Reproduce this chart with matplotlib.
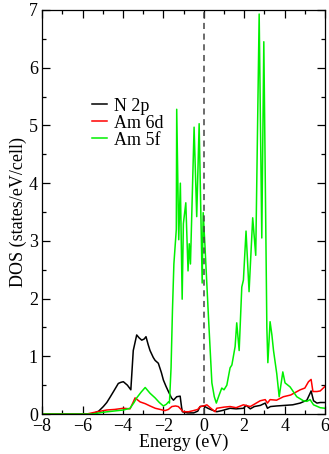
import matplotlib
matplotlib.use('Agg')
import matplotlib.pyplot as plt
from matplotlib.ticker import MultipleLocator

plt.rcParams['font.family'] = ['Liberation Serif', 'DejaVu Serif']

# N 2p partial DOS
e_n2p = [-8, -5.6, -5.47, -5.2, -4.97, -4.8, -4.64, -4.45, -4.23, -4.1, -3.98, -3.78,
         -3.61, -3.49, -3.32, -3.2, -3.07, -2.95, -2.86, -2.75, -2.66, -2.5, -2.41,
         -2.25, -2.1, -2.0, -1.87, -1.75, -1.6, -1.5, -1.34, -1.17, -1.1, -1.06,
         -0.8, -0.5, -0.3, -0.18, 0.0, 0.2, 0.4, 0.64, 0.9, 1.3, 1.6, 1.96, 2.1,
         2.3, 2.5, 2.8, 3.04, 3.15, 3.3, 3.6, 4.0, 4.4, 4.77, 5.1, 5.26, 5.31,
         5.43, 5.6, 5.76, 6.0]
dos_n2p = [0.0, 0.0, 0.01, 0.05, 0.13, 0.2, 0.29, 0.4, 0.53, 0.55, 0.56, 0.5,
           0.42, 1.1, 1.37, 1.32, 1.28, 1.3, 1.34, 1.2, 1.1, 0.98, 0.93,
           0.88, 0.72, 0.59, 0.48, 0.39, 0.28, 0.24, 0.3, 0.31, 0.12, 0.04,
           0.02, 0.02, 0.05, 0.13, 0.14, 0.1, 0.07, 0.04, 0.06, 0.1, 0.09, 0.1, 0.15,
           0.09, 0.13, 0.15, 0.19, 0.1, 0.13, 0.14, 0.15, 0.16, 0.19, 0.24, 0.36, 0.4,
           0.23, 0.19, 0.2, 0.2]

# Am 6d partial DOS
e_am6d = [-8, -5.8, -5.4, -4.8, -4.4, -3.98, -3.65, -3.5, -3.4, -3.15, -2.9, -2.66,
          -2.4, -2.16, -1.92, -1.75, -1.58, -1.4, -1.26, -1.1, -1.01, -0.75, -0.51,
          -0.3, -0.18, 0.0, 0.15, 0.35, 0.56, 0.64, 1.0, 1.3, 1.6, 1.96, 2.3, 2.5,
          2.79, 3.04, 3.15, 3.28, 3.6, 3.94, 4.3, 4.77, 5.0, 5.18, 5.31, 5.4, 5.6,
          5.76, 6.0]
dos_am6d = [0.0, 0.0, 0.03, 0.07, 0.08, 0.1, 0.09, 0.2, 0.28, 0.21, 0.18, 0.14,
            0.1, 0.08, 0.06, 0.08, 0.13, 0.14, 0.13, 0.07, 0.04, 0.04, 0.06,
            0.08, 0.13, 0.14, 0.16, 0.1, 0.04, 0.1, 0.12, 0.13, 0.11, 0.16, 0.13, 0.17,
            0.23, 0.25, 0.19, 0.25, 0.24, 0.3, 0.33, 0.42, 0.45, 0.56, 0.6, 0.39, 0.39,
            0.4, 0.48]

# Am 5f partial DOS
e_am5f = [-8, -5.5, -5.0, -4.5, -3.98, -3.65, -3.45, -3.32, -3.1, -2.9, -2.66, -2.41,
          -2.2, -2.0, -1.85, -1.75, -1.70, -1.62, -1.55, -1.48, -1.40, -1.36, -1.34,
          -1.24, -1.16, -1.07, -1.01, -0.89, -0.78, -0.72, -0.66, -0.48, -0.35,
          -0.23, -0.08, -0.03, 0.06, 0.23, 0.4, 0.52, 0.62, 0.75, 0.89, 1.0, 1.14,
          1.3, 1.39, 1.55, 1.63, 1.75, 1.88, 1.96, 2.09, 2.24, 2.42, 2.57, 2.74,
          2.87, 2.97, 3.12, 3.17, 3.28, 3.37, 3.45, 3.61, 3.73, 3.91, 4.02, 4.27,
          4.6, 4.93, 5.1, 5.26, 5.43, 5.76, 6.0]
dos_am5f = [0.0, 0.0, 0.03, 0.05, 0.07, 0.1, 0.2, 0.28, 0.38, 0.46, 0.36, 0.28,
            0.2, 0.14, 0.17, 0.21, 0.19, 0.8, 1.8, 2.6, 3.0, 3.2, 5.28,
            3.02, 4.0, 1.99, 3.3, 3.66, 2.48, 2.95, 2.6, 4.97, 3.42,
            5.03, 2.27, 3.49, 2.9, 1.69, 0.54, 0.3, 0.19, 0.32, 0.45, 0.42, 0.5,
            0.8, 0.85, 1.17, 1.58, 1.1, 2.2, 2.32, 3.17, 2.12, 3.4, 2.75, 6.93,
            3.05, 6.45, 1.5, 0.89, 1.6, 1.37, 1.1, 0.7, 0.3, 0.73, 0.54, 0.47,
            0.3, 0.23, 0.22, 0.25, 0.16, 0.11, 0.1]

fig = plt.figure(figsize=(3.29, 4.54), dpi=100)
ax = fig.add_axes([0.128, 0.088, 0.86, 0.89])

ax.plot(e_n2p, dos_n2p, color='black', lw=1.1, label='N 2p')
ax.plot(e_am6d, dos_am6d, color='#ff0000', lw=1.1, label='Am 6d')
ax.plot(e_am5f, dos_am5f, color='#00f000', lw=1.1, label='Am 5f')
ax.axvline(0, color='#444444', lw=1.1, ls=(0, (4, 3)))

ax.set_xlim(-8, 6)
ax.set_ylim(0, 7)
ax.xaxis.set_major_locator(MultipleLocator(2))
ax.xaxis.set_minor_locator(MultipleLocator(1))
ax.yaxis.set_major_locator(MultipleLocator(1))
ax.yaxis.set_minor_locator(MultipleLocator(0.5))
ax.tick_params(which='both', direction='in', top=True, right=True, labelsize=13, pad=3)
ax.tick_params(which='major', length=6, width=0.9)
ax.tick_params(which='minor', length=3, width=0.9)
for s in ax.spines.values():
    s.set_linewidth(0.9)

ax.set_xlabel('Energy (eV)', fontsize=13, labelpad=-1)
ax.set_ylabel('DOS (states/eV/cell)', fontsize=13, labelpad=1)

ax.legend(loc='upper left', bbox_to_anchor=(0.175, 0.783), frameon=False, fontsize=13,
          handlelength=0.85, handletextpad=0.4, labelspacing=0.0, borderpad=0,
          borderaxespad=0)

fig.savefig('out.png', dpi=100)
